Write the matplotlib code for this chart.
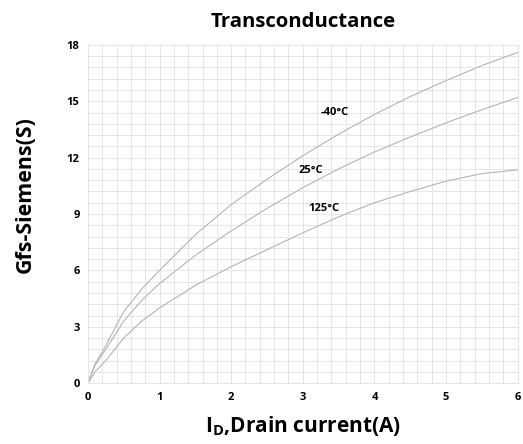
import matplotlib
matplotlib.use("Agg")
import matplotlib.pyplot as plt
from matplotlib.ticker import MultipleLocator

plt.rcParams["font.family"] = ["Open Sans", "DejaVu Sans"]
plt.rcParams["mathtext.fontset"] = "custom"
plt.rcParams["mathtext.rm"] = "Open Sans:bold"
plt.rcParams["mathtext.bf"] = "Open Sans:bold"

# Drain current (A)
current = [0, 0.1, 0.25, 0.5, 0.75, 1, 1.5, 2, 2.5, 3, 3.5, 4, 4.5, 5, 5.5, 6]
# Transconductance (S) per temperature
gfs_m40 = [0, 1.0, 2.0, 3.8, 5.0, 6.0, 7.9, 9.5, 10.85, 12.1, 13.25, 14.3, 15.25, 16.1, 16.9, 17.6]
gfs_25 = [0, 0.95, 1.8, 3.3, 4.4, 5.3, 6.8, 8.1, 9.3, 10.4, 11.4, 12.3, 13.1, 13.85, 14.55, 15.2]
gfs_125 = [0, 0.6, 1.2, 2.4, 3.3, 4.0, 5.2, 6.2, 7.1, 8.0, 8.85, 9.6, 10.2, 10.75, 11.15, 11.35]

labels = ["-40°C", "25°C", "125°C"]
label_pos = [(3.45, 14.4), (3.11, 11.3), (3.29, 9.28)]

fig = plt.figure(figsize=(5.23, 4.44), dpi=100)
ax = fig.add_axes([0.168, 0.137, 0.822, 0.762])

for ys in (gfs_m40, gfs_25, gfs_125):
    ax.plot(current, ys, color="#b4b4b4", linewidth=0.8)

for lab, (lx, ly) in zip(labels, label_pos):
    ax.text(lx, ly, lab, fontsize=8, fontweight="bold", ha="center", va="center")

ax.set_xlim(0, 6)
ax.set_ylim(0, 18)
ax.xaxis.set_major_locator(MultipleLocator(1))
ax.yaxis.set_major_locator(MultipleLocator(3))
ax.xaxis.set_minor_locator(MultipleLocator(0.2))
ax.yaxis.set_minor_locator(MultipleLocator(0.6))
ax.grid(which="both", color="#e6e6e6", linewidth=0.7)
ax.set_axisbelow(True)
ax.tick_params(which="both", length=0, labelsize=8, pad=6)
for t in ax.get_xticklabels() + ax.get_yticklabels():
    t.set_fontweight("bold")
for s in ax.spines.values():
    s.set_color("#e6e6e6")

ax.set_title("Transconductance", fontsize=14.7, fontweight="bold", pad=13)
ax.set_xlabel(r"I$_\mathregular{D}$,Drain current(A)", fontsize=15, fontweight="bold", labelpad=8)
ax.set_ylabel("Gfs-Siemens(S)", fontsize=15.4, fontweight="bold", labelpad=22)
ax.yaxis.label.set_y(0.556)

fig.savefig("out.png", dpi=100)
